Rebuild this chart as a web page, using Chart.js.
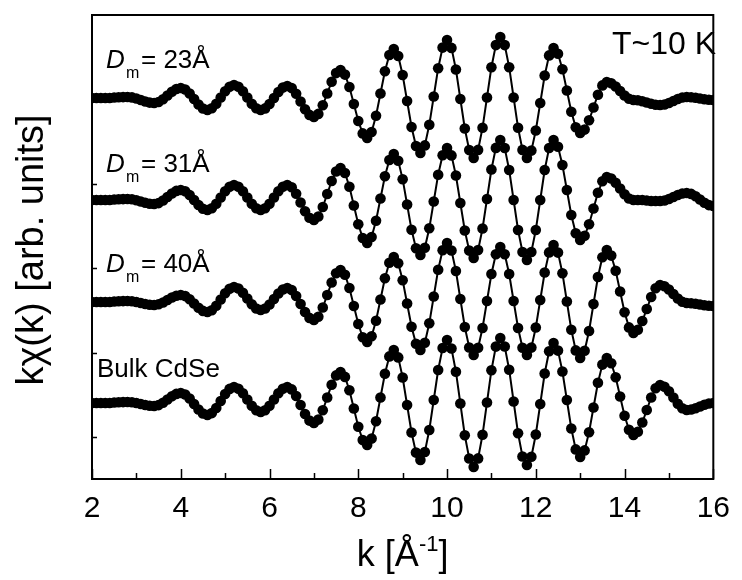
<!DOCTYPE html>
<html><head><meta charset="utf-8">
<script src="https://cdn.jsdelivr.net/npm/chart.js@4"></script>
<style>html,body{margin:0;padding:0;background:#fff}</style>
</head><body>
<canvas id="c" width="742" height="580" style="width:742px;height:580px"></canvas>
<script>
// k grid (Å^-1)
const k = [2,2.1,2.2,2.3,2.4,2.5,2.6,2.7,2.8,2.9,3,3.1,3.2,3.3,3.4,3.5,3.6,3.7,3.8,3.9,4,4.1,4.2,4.3,4.4,4.5,4.6,4.7,4.8,4.9,5,5.1,5.2,5.3,5.4,5.5,5.6,5.7,5.8,5.9,6,6.1,6.2,6.3,6.4,6.5,6.6,6.7,6.8,6.9,7,7.1,7.2,7.3,7.4,7.5,7.6,7.7,7.8,7.9,8,8.1,8.2,8.3,8.4,8.5,8.6,8.7,8.8,8.9,9,9.1,9.2,9.3,9.4,9.5,9.6,9.7,9.8,9.9,10,10.1,10.2,10.3,10.4,10.5,10.6,10.7,10.8,10.9,11,11.1,11.2,11.3,11.4,11.5,11.6,11.7,11.8,11.9,12,12.1,12.2,12.3,12.4,12.5,12.6,12.7,12.8,12.9,13,13.1,13.2,13.3,13.4,13.5,13.6,13.7,13.8,13.9,14,14.1,14.2,14.3,14.4,14.5,14.6,14.7,14.8,14.9,15,15.1,15.2,15.3,15.4,15.5,15.6,15.7,15.8,15.9,16];

// k*chi(k), arb. units (before vertical offset)
const kchi23 = [
0,0,0,0,0,0.5,0.8,0.9,1,0.6,
-0.5,-2,-3.5,-4.6,-5,-4,-1.3,2.5,6.3,9,
10,8.5,4.5,-1,-6.5,-10.5,-12,-10.3,-5.8,0.5,
6.8,11.3,13,11.3,6.8,0.5,-5.8,-10.3,-12,-10.4,
-6,0,6,10.4,12,9.9,4.3,-3.5,-11.3,-16.9,
-19,-15.9,-7.3,4.5,16.3,24.9,28,23.4,11,-6,
-23,-35.4,-40,-34,-17.8,4.5,26.8,43,49,42,
23,-3,-29,-48,-55,-47.4,-26.8,1.5,29.8,50.4,
58,50.1,28.5,-1,-30.5,-52.1,-60,-51.9,-29.8,0.5,
30.8,52.9,61,52.9,30.8,0.5,-29.8,-51.9,-60,-52.6,
-32.5,-5,22.5,42.6,50,44.3,28.8,7.5,-13.8,-29.3,
-35,-31.6,-22.3,-9.5,3.3,12.6,16,14.8,11.5,7,
2.5,-0.8,-2,-2.3,-3.3,-4.5,-5.8,-6.7,-7,-6.5,
-5,-3,-1,0.5,1,0.8,0.3,-0.5,-1.3,-1.8,
-2];
const kchi31 = [
0,0,0,0,0,0.5,0.8,0.9,1,0.7,
-0.3,-1.5,-2.8,-3.7,-4,-3.1,-0.5,3,6.5,9.1,
10,8.7,5,0,-5,-8.7,-10,-8.3,-3.8,2.5,
8.8,13.3,15,13.3,8.8,2.5,-3.8,-8.3,-10,-8.3,
-3.8,2.5,8.8,13.3,15,12.7,6.3,-2.5,-11.3,-17.7,
-20,-16.5,-7,6,19,28.5,32,27,13.3,-5.5,
-24.3,-38,-43,-37,-20.8,1.5,23.8,40,46,39.2,
20.8,-4.5,-29.8,-48.2,-55,-47.8,-28.3,-1.5,25.3,44.8,
52,44.6,24.5,-3,-30.5,-50.6,-58,-50.1,-28.5,1,
30.5,52.1,60,52,30,0,-30,-52,-60,-52,
-30,0,30,52,60,53.3,35,10,-15,-33.3,
-40,-35.8,-24.3,-8.5,7.3,18.8,23,21.5,17.3,11.5,
5.8,1.5,0,0,0,-0.5,-1,-1,-1,-0.5,
1,3,5,6.5,7,6.1,3.8,0.5,-2.8,-5.1,
-6];
const kchi40 = [
0,0,0,0,0,0.5,0.8,0.9,1,0.7,
0,-1,-2,-2.7,-3,-2.3,-0.5,2,4.5,6.3,
7,5.9,2.8,-1.5,-5.8,-8.9,-10,-8.3,-3.8,2.5,
8.8,13.3,15,13.5,9.3,3.5,-2.3,-6.5,-8,-6.5,
-2.5,3,8.5,12.5,14,11.9,6,-2,-10,-15.9,
-18,-14.7,-5.5,7,19.5,28.7,32,27.2,14,-4,
-22,-35.2,-40,-34.3,-18.8,2.5,23.8,39.3,45,38.8,
21.8,-1.5,-24.8,-41.8,-48,-40.8,-21.3,5.5,32.3,51.8,
59,51.5,31,3,-25,-45.5,-53,-45.8,-26,1,
28,47.8,55,47.8,28,1,-26,-45.8,-53,-45.6,
-25.5,2,29.5,49.6,57,49.4,28.8,0.5,-27.8,-48.4,
-56,-48.8,-29,-2,25,44.8,52,46.4,31.3,10.5,
-10.3,-25.4,-31,-27.8,-19,-7,5,13.8,17,15.8,
12.5,8,3.5,0.2,-1,-1.2,-1.8,-2.5,-3.3,-3.8,
-4];
const kchiBulk = [
0,0,0,0,0,0.5,0.8,0.9,1,0.7,
0,-1,-2,-2.7,-3,-2.1,0.3,3.5,6.8,9.1,
10,8.5,4.5,-1,-6.5,-10.5,-12,-10.1,-5,2,
9,14.1,16,14.3,9.8,3.5,-2.8,-7.3,-9,-7.3,
-2.8,3.5,9.8,14.3,16,13.6,7,-2,-11,-17.6,
-20,-16.6,-7.3,5.5,18.3,27.6,31,26.1,12.8,-5.5,
-23.8,-37.1,-42,-35.6,-18.3,5.5,29.3,46.6,53,45.6,
25.5,-2,-29.5,-49.6,-57,-49,-27,3,33,55,
63,54.5,31.3,-0.5,-32.3,-55.5,-64,-55.4,-31.8,0.5,
32.8,56.4,65,56.5,33.3,1.5,-30.3,-53.5,-62,-53.8,
-31.5,-1,29.5,51.8,60,52.4,31.5,3,-25.5,-46.4,
-54,-47.4,-29.3,-4.5,20.3,38.4,45,39.8,25.8,6.5,
-12.8,-26.8,-32,-28.7,-19.5,-7,5.5,14.7,18,16.3,
11.8,5.5,-0.8,-5.3,-7,-6.5,-5.3,-3.5,-1.8,-0.5,
0];

// vertical offsets of the stacked spectra (arb. units)
const offsets = [339, 237, 135, 34];
const sampleSizes = ['23', '31', '40'];
const xMajorTicks = [2, 4, 6, 8, 10, 12, 14, 16];
const xMinorTicks = [3, 5, 7, 9, 11, 13, 15];
const yTicks = [0, 84.5, 169, 253.5, 338];

const FONT = '"Liberation Sans", Arial, Helvetica, sans-serif';
const allSeries = [kchi23, kchi31, kchi40, kchiBulk];
const names = ['Dm = 23Å', 'Dm = 31Å', 'Dm = 40Å', 'Bulk CdSe'];

const datasets = allSeries.map((s, i) => ({
  label: names[i],
  data: s.map((v, j) => ({x: k[j], y: v + offsets[i]})),
  borderColor: '#000',
  backgroundColor: '#000',
  borderWidth: 2,
  pointRadius: 5.3,
  pointBorderWidth: 0,
  pointBackgroundColor: '#000',
  tension: 0,
  clip: 0
}));

const deco = {
  id: 'deco',
  afterDraw(chart) {
    const {ctx, chartArea: a, scales: {x, y}} = chart;
    ctx.save();
    ctx.strokeStyle = '#000';
    ctx.lineWidth = 1.5;
    ctx.beginPath();
    for (const t of xMajorTicks) { const p = Math.round(x.getPixelForValue(t)) + 0.5; ctx.moveTo(p, a.bottom); ctx.lineTo(p, a.bottom - 10); }
    for (const t of xMinorTicks) { const p = Math.round(x.getPixelForValue(t)) + 0.5; ctx.moveTo(p, a.bottom); ctx.lineTo(p, a.bottom - 6); }
    for (const t of yTicks) { const p = Math.round(y.getPixelForValue(t)) + 0.5; ctx.moveTo(a.left, p); ctx.lineTo(a.left + 5, p); }
    ctx.stroke();
    ctx.lineWidth = 2;
    ctx.strokeRect(a.left, a.top, a.right - a.left, a.bottom - a.top);

    ctx.fillStyle = '#000';
    ctx.textBaseline = 'alphabetic';
    const baseY = [68, 172, 272];
    sampleSizes.forEach((s, i) => {
      const by = baseY[i];
      ctx.textAlign = 'left';
      ctx.font = 'italic 26px ' + FONT;
      ctx.fillText('D', 106, by);
      ctx.font = '16px ' + FONT;
      ctx.fillText('m', 126, by + 10);
      ctx.font = '26px ' + FONT;
      ctx.fillText('= ' + s + 'Å', 141, by);
    });
    ctx.font = '26px ' + FONT;
    ctx.fillText('Bulk CdSe', 97, 377);
    ctx.font = '32px ' + FONT;
    ctx.textAlign = 'right';
    ctx.fillText('T~10 K', 716, 54);

    const cx = (a.left + a.right) / 2;
    ctx.textAlign = 'left';
    const p1 = 'k [Å', p3 = ']';
    ctx.font = '22px ' + FONT; const w2 = ctx.measureText('-1').width;
    ctx.font = '36px ' + FONT; const w1 = ctx.measureText(p1).width, w3 = ctx.measureText(p3).width;
    let sx = cx - (w1 + w2 + w3) / 2;
    const by = 566;
    ctx.fillText(p1, sx, by); sx += w1;
    ctx.font = '22px ' + FONT; ctx.fillText('-1', sx, by - 15); sx += w2;
    ctx.font = '36px ' + FONT; ctx.fillText(p3, sx, by);

    ctx.save();
    ctx.translate(43, (a.top + a.bottom) / 2 + 3);
    ctx.rotate(-Math.PI / 2);
    ctx.textAlign = 'center';
    ctx.font = '38px ' + FONT;
    ctx.fillText('kχ(k) [arb. units]', 0, 0);
    ctx.restore();
    ctx.restore();
  }
};

new Chart(document.getElementById('c'), {
  type: 'line',
  data: {datasets},
  options: {
    responsive: false,
    animation: false,
    layout: {padding: {left: 0, right: 20, top: 15, bottom: 0}},
    plugins: {legend: {display: false}, tooltip: {enabled: false}},
    scales: {
      x: {
        type: 'linear', min: 2, max: 16,
        grid: {display: false, drawTicks: false},
        border: {display: false},
        ticks: {stepSize: 2, color: '#000', font: {family: FONT, size: 30}, padding: 12, maxRotation: 0},
        afterFit(s) { s.height = 101; }
      },
      y: {
        min: -42, max: 422,
        grid: {display: false, drawTicks: false},
        border: {display: false},
        ticks: {display: false},
        afterFit(s) { s.width = 92; }
      }
    }
  },
  plugins: [deco]
});
</script>
</body></html>
